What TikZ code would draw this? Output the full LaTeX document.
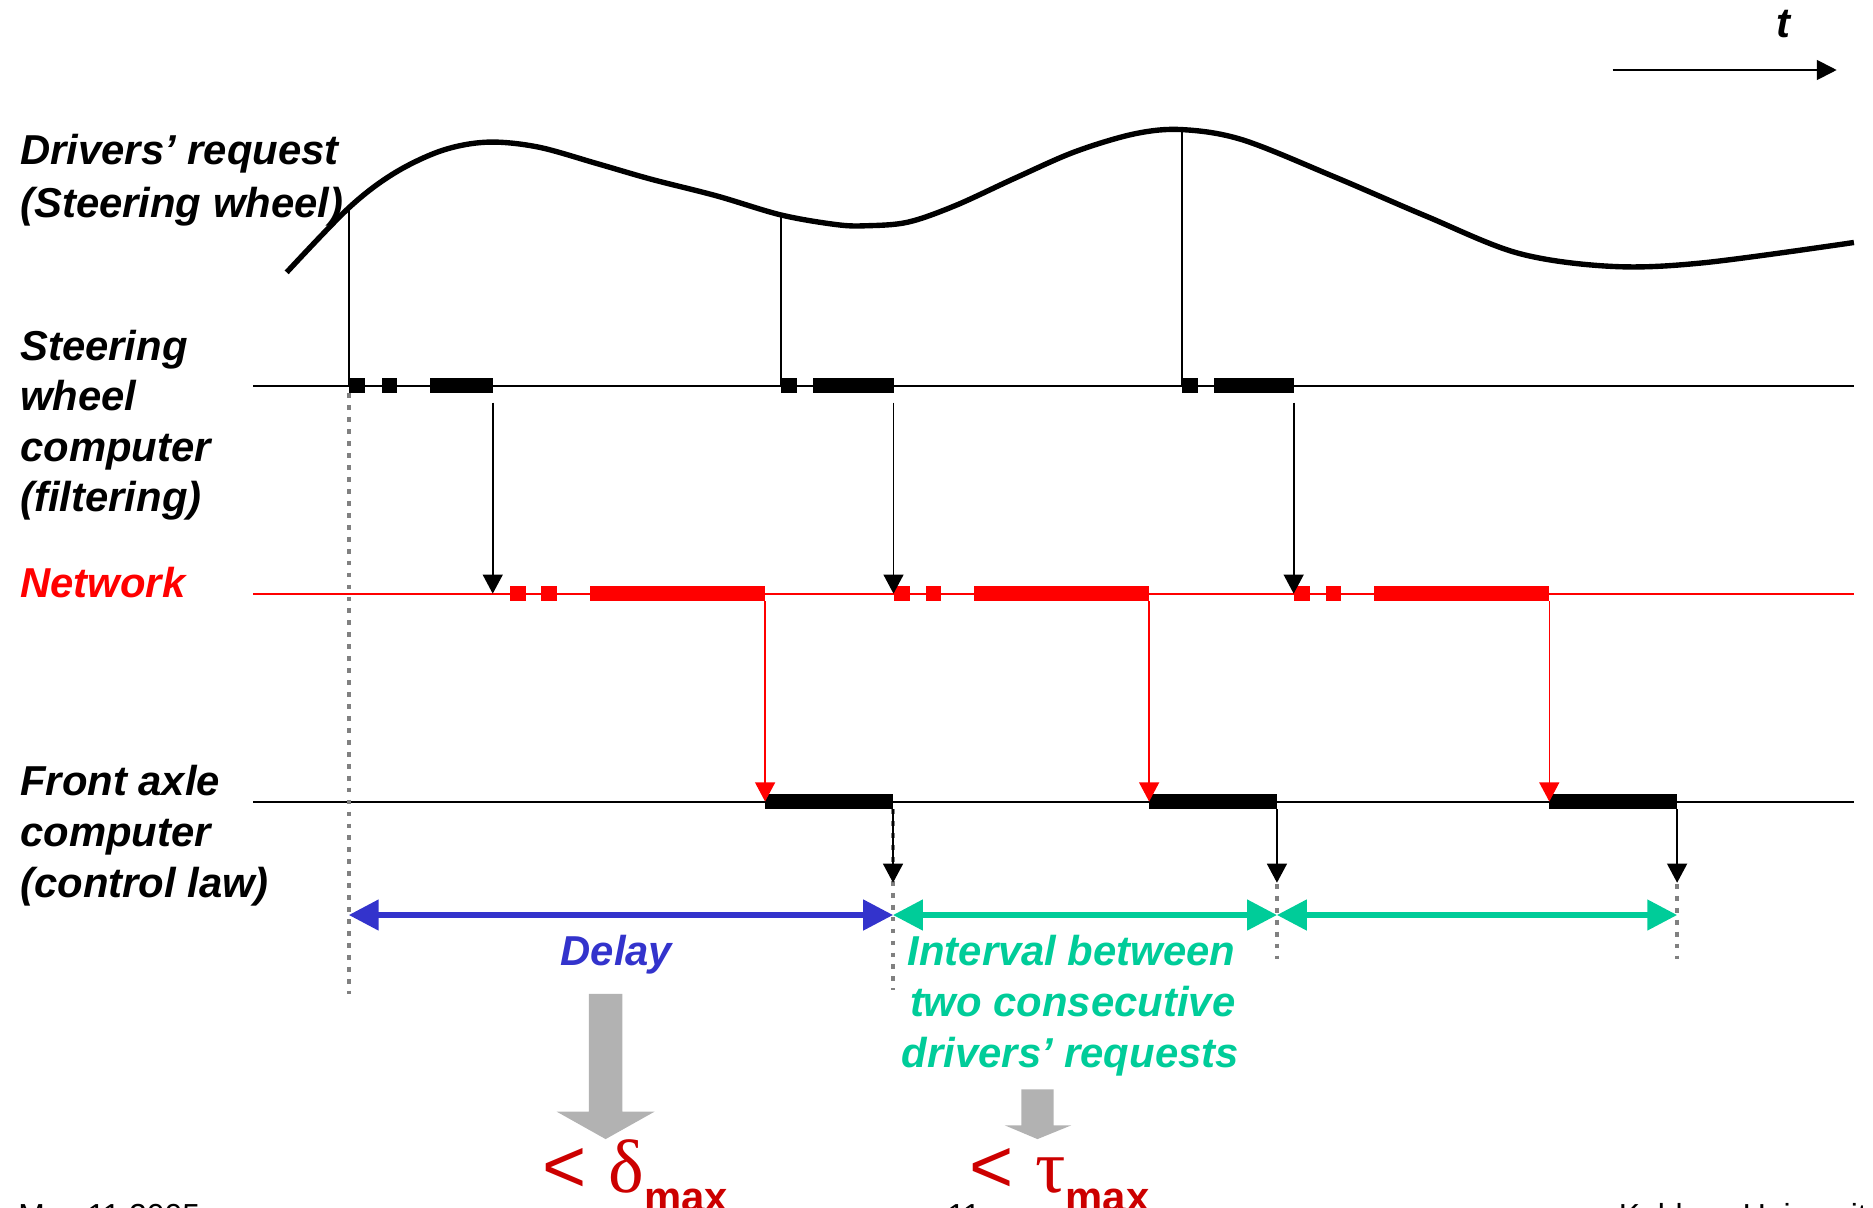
\documentclass[tikz,border=0pt]{standalone}
\usepackage{fontspec}
\setmainfont{Liberation Sans}
\newfontfamily\greekfont{Liberation Serif}
\usetikzlibrary{arrows.meta}
\definecolor{netred}{RGB}{255,0,0}
\definecolor{dblue}{RGB}{51,51,204}
\definecolor{dgreen}{RGB}{0,204,153}
\definecolor{dotgray}{RGB}{128,128,128}
\definecolor{arrgray}{RGB}{178,178,178}
\definecolor{bigred}{RGB}{204,0,0}
\begin{document}
\begin{tikzpicture}[x=0.6pt,y=-0.6pt,
  lbl/.style={anchor=base west,inner sep=0pt,font=\fontsize{21}{25}\selectfont\bfseries\itshape},
  clbl/.style={anchor=base,inner sep=0pt,font=\fontsize{21}{25}\selectfont\bfseries\itshape},
  foot/.style={anchor=base west,inner sep=0pt,font=\fontsize{16}{19}\selectfont},
  tline/.style={line width=1pt},
  thinv/.style={line width=0.8pt},
  darrow/.style={line width=0.9pt,-{Triangle[width=10pt,length=9.6pt]}},
  redarrow/.style={line width=0.8pt,netred,-{Triangle[width=10pt,length=9.6pt]}},
  gdots/.style={dotgray,line width=2.2pt,dash pattern=on 2.4pt off 3.6pt},
  dbl/.style={line width=2.6pt,{Triangle[width=15pt,length=15pt]}-{Triangle[width=15pt,length=15pt]}},
  bigtxt/.style={anchor=base west,inner sep=0pt,text=bigred,font=\fontsize{38}{44}\selectfont}
]
\useasboundingbox (0,0) rectangle (1568,1011);
\clip (0,0) rectangle (1568,1011);

% ---------- labels ----------
\node[lbl] (l1a) at (16.7,138) {Drivers’ request};
\node[lbl] (l1b) at (16.7,181.7) {(Steering wheel)};
\node[lbl] (l2a) at (16.7,301.4) {Steering};
\node[lbl] (l2b) at (16.7,343.3) {wheel};
\node[lbl] (l2c) at (16.7,386.5) {computer};
\node[lbl] (l2d) at (16.7,428.4) {(filtering)};
\node[lbl,text=netred] (l3) at (16.7,500) {Network};
\node[lbl] (l4a) at (16.7,665.6) {Front axle};
\node[lbl] (l4b) at (16.7,708.3) {computer};
\node[lbl] (l4c) at (16.7,751.2) {(control law)};

% ---------- time axis ----------
\node[clbl] (tl) at (1493,31) {t};
\coordinate (ta) at (1350,58.6);
\coordinate (tb) at (1537.6,58.6);
\draw[line width=1pt,-{Triangle[width=10pt,length=10pt]}] (ta) -- (tb);

% ---------- curve ----------
\draw[line width=2.7pt] plot[smooth,tension=0.55] coordinates {
 (240,228) (292,174) (330,145) (370,126) (408,119) (450,123) (500,137) (545,150) (600,164)
 (654,180) (700,188) (725,189) (760,186) (800,172) (850,149) (900,127) (950,112)
 (989.5,108.5) (1040,117) (1117,148) (1194,181) (1271,212) (1349,223) (1426,220) (1552,203)};

% ---------- timelines ----------
\coordinate (s0) at (212,323);  \coordinate (s1) at (1552,323);
\coordinate (n0) at (212,497);  \coordinate (n1) at (1552,497);
\coordinate (f0) at (212,671);  \coordinate (f1) at (1552,671);
\draw[tline] (s0) -- (s1);
\draw[tline,netred] (n0) -- (n1);
\draw[tline] (f0) -- (f1);

% ---------- thin lines from curve ----------
\coordinate (c1) at (292,174);   \coordinate (c1b) at (292,323);
\coordinate (c2) at (654,180);   \coordinate (c2b) at (654,323);
\coordinate (c3) at (989.5,108.5); \coordinate (c3b) at (989.5,323);
\draw[thinv] (c1) -- (c1b);
\draw[thinv] (c2) -- (c2b);
\draw[thinv] (c3) -- (c3b);

% ---------- steering blocks ----------
\foreach \a/\b in {292/305.5,319.5/332.7,359.6/413,654/667.5,681/694.4,694.4/748,989.5/1002.5,1016/1029,1029/1083}
  \fill (\a,316.6) rectangle (\b,329.4);
% ---------- network blocks ----------
\foreach \a/\b in {427/440,453/466.6,493.5/640.5,748/761.5,775/788,815/962,1083/1096.5,1110/1123,1150/1297}
  \fill[netred] (\a,490.5) rectangle (\b,503.5);
% ---------- front axle blocks ----------
\foreach \a/\b in {640.5/747.6,962/1069,1297/1404}
  \fill (\a,664.6) rectangle (\b,677.4);

% ---------- gray dotted guides ----------
\coordinate (g1a) at (292,329.4);  \coordinate (g1b) at (292,832);
\coordinate (g2a) at (747.6,677.4); \coordinate (g2b) at (747.6,829);
\coordinate (g3a) at (1069,740);   \coordinate (g3b) at (1069,803);
\coordinate (g4a) at (1404,740);   \coordinate (g4b) at (1404,803);
\draw[gdots] (g1a) -- (g1b);
\draw[gdots] (g2a) -- (g2b);
\draw[gdots] (g3a) -- (g3b);
\draw[gdots] (g4a) -- (g4b);

% ---------- arrows steering -> network ----------
\coordinate (a1) at (412.5,337); \coordinate (a1b) at (412.5,497);
\coordinate (a2) at (748,337);   \coordinate (a2b) at (748,497);
\coordinate (a3) at (1083,337);  \coordinate (a3b) at (1083,497);
\draw[darrow] (a1) -- (a1b);
\draw[darrow] (a2) -- (a2b);
\draw[darrow] (a3) -- (a3b);

% ---------- arrows network -> front axle ----------
\coordinate (r1) at (640.5,503.5); \coordinate (r1b) at (640.5,671);
\coordinate (r2) at (962,503.5);   \coordinate (r2b) at (962,671);
\coordinate (r3) at (1297,503.5);  \coordinate (r3b) at (1297,671);
\draw[redarrow] (r1) -- (r1b);
\draw[redarrow] (r2) -- (r2b);
\draw[redarrow] (r3) -- (r3b);

% ---------- arrows out of front axle ----------
\coordinate (o1) at (747.6,677.4); \coordinate (o1b) at (747.6,739);
\coordinate (o2) at (1069,677.4);  \coordinate (o2b) at (1069,739);
\coordinate (o3) at (1404,677.4);  \coordinate (o3b) at (1404,739);
\draw[darrow] (o1) -- (o1b);
\draw[darrow] (o2) -- (o2b);
\draw[darrow] (o3) -- (o3b);

% ---------- interval arrows ----------
\coordinate (d0) at (292,766);
\coordinate (d1) at (747.6,766);
\coordinate (d2) at (1069,766);
\coordinate (d3) at (1404,766);
\draw[dbl,dblue] (d0) -- (d1);
\draw[dbl,dgreen] (d1) -- (d2);
\draw[dbl,dgreen] (d2) -- (d3);

\node[clbl,text=dblue] (delay) at (516,808) {Delay};
\node[clbl,text=dgreen] (iv1) at (897,808) {Interval between};
\node[clbl,text=dgreen] (iv2) at (898,851) {two consecutive};
\node[clbl,text=dgreen] (iv3) at (896,894) {drivers’ requests};

% ---------- big gray arrows ----------
\fill[arrgray] (493,832) -- (521,832) -- (521,930.6) -- (548,930.6) -- (507,953.6)
  -- (466,930.6) -- (493,930.6) -- cycle;
\fill[arrgray] (855,912) -- (882,912) -- (882,942) -- (897,942) -- (868.5,953.6)
  -- (841,942) -- (855,942) -- cycle;

% ---------- bounds ----------
\node[bigtxt] (bd) at (454,998) {<\hspace{11pt}{\greekfont δ}\raisebox{-9.5pt}{\fontsize{21}{25}\selectfont\bfseries max}};
\node[bigtxt] (bt) at (811,998) {<\hspace{11pt}{\greekfont τ}\raisebox{-9.5pt}{\fontsize{21}{25}\selectfont\bfseries max}};

% ---------- footer (cut off by the page edge) ----------
\node[foot] (ft1) at (15,1027) {May 11 2005};
\node[foot,anchor=base] (ft2) at (807,1027) {11};
\node[foot] (ft3) at (1355,1027) {Koblenz University};
\end{tikzpicture}
\end{document}
